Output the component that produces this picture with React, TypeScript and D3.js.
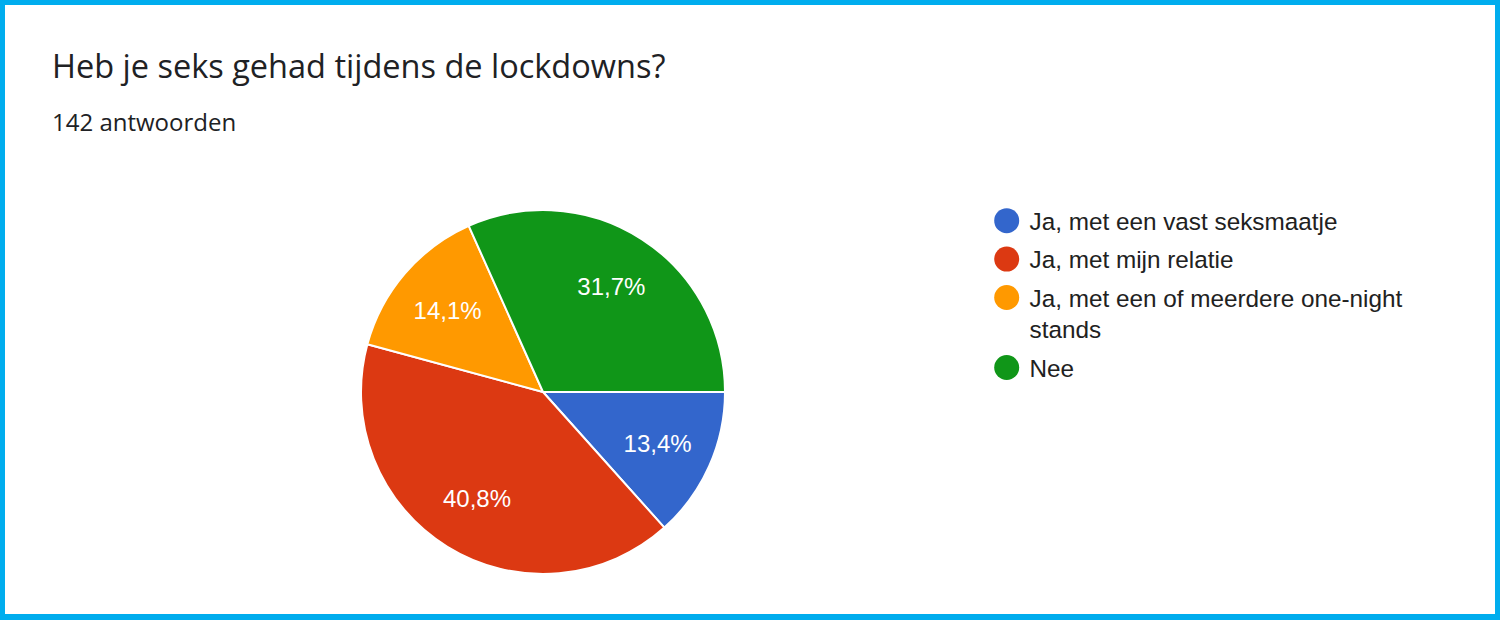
import React from "react";
import * as d3 from "d3";

const title = "Heb je seks gehad tijdens de lockdowns?";
const subtitle = "142 antwoorden";
const categories = [
  "Ja, met een vast seksmaatje",
  "Ja, met mijn relatie",
  "Ja, met een of meerdere one-night stands",
  "Nee",
];
const counts = [19, 58, 20, 45];
const percentLabels = ["13,4%", "40,8%", "14,1%", "31,7%"];
const colors = ["#3366cc", "#dc3912", "#ff9900", "#109618"];

const W = 1500;
const H = 620;
const cx = 543;
const cy = 392;
const R = 182;
const legendFont = "24.3px 'Liberation Sans', Arial, sans-serif";

function wrap(text: string, maxW: number): string[] {
  const canvas = document.createElement("canvas");
  const ctx = canvas.getContext("2d")!;
  ctx.font = legendFont;
  const words = text.split(" ");
  const lines: string[] = [];
  let cur = "";
  for (const w of words) {
    const t = cur ? cur + " " + w : w;
    if (ctx.measureText(t).width > maxW && cur) {
      lines.push(cur);
      cur = w;
    } else cur = t;
  }
  if (cur) lines.push(cur);
  return lines;
}

export default function App() {
  const data = categories.map((c, i) => ({ c, v: counts[i], i }));
  const pie = d3
    .pie<any>()
    .value((d) => d.v)
    .sort(null)
    .startAngle(Math.PI / 2)
    .endAngle(Math.PI / 2 + 2 * Math.PI);
  const arcs = pie(data);
  const arcGen = d3.arc<any>().innerRadius(0).outerRadius(R);
  const labelArc = d3.arc<any>().innerRadius(R * 0.69).outerRadius(R * 0.69);

  let y = 230;
  const legendItems = categories.map((c, i) => {
    const lines = wrap(c, 400);
    const item = { c, i, lines, y };
    y += 38.4 + (lines.length - 1) * 31.6;
    return item;
  });

  return (
    <svg
      width={W}
      height={H}
      style={{ position: "absolute", left: 0, top: 0 }}
    >
      <rect x={0} y={0} width={W} height={H} fill="#00adee" />
      <rect x={5} y={5} width={1490} height={609} fill="#ffffff" />
      <text
        x={52}
        y={78}
        fontFamily="'Open Sans', Roboto, sans-serif"
        fontSize={32.5}
        fill="#202124"
      >
        {title}
      </text>
      <text
        x={52}
        y={131}
        fontFamily="'Open Sans', Roboto, sans-serif"
        fontSize={24}
        fill="#202124"
      >
        {subtitle}
      </text>
      <g transform={`translate(${cx},${cy})`}>
        {arcs.map((a, i) => (
          <path
            key={i}
            d={arcGen(a) || ""}
            fill={colors[i]}
            stroke="#ffffff"
            strokeWidth={2}
          />
        ))}
        {arcs.map((a, i) => {
          const [lx, ly] = labelArc.centroid(a);
          return (
            <text
              key={"l" + i}
              x={lx}
              y={ly}
              textAnchor="middle"
              dominantBaseline="central"
              fontFamily="'Liberation Sans', Arial, sans-serif"
              fontSize={24}
              fill="#ffffff"
            >
              {percentLabels[i]}
            </text>
          );
        })}
      </g>
      <g>
        {legendItems.map((it) => (
          <g key={it.i}>
            <circle cx={1006.7} cy={it.y - 9.3} r={12.5} fill={colors[it.i]} />
            {it.lines.map((ln, k) => (
              <text
                key={k}
                x={1029.5}
                y={it.y + k * 31.6}
                fontFamily="'Liberation Sans', Arial, sans-serif"
                fontSize={24.3}
                fill="#212121"
              >
                {ln}
              </text>
            ))}
          </g>
        ))}
      </g>
    </svg>
  );
}
